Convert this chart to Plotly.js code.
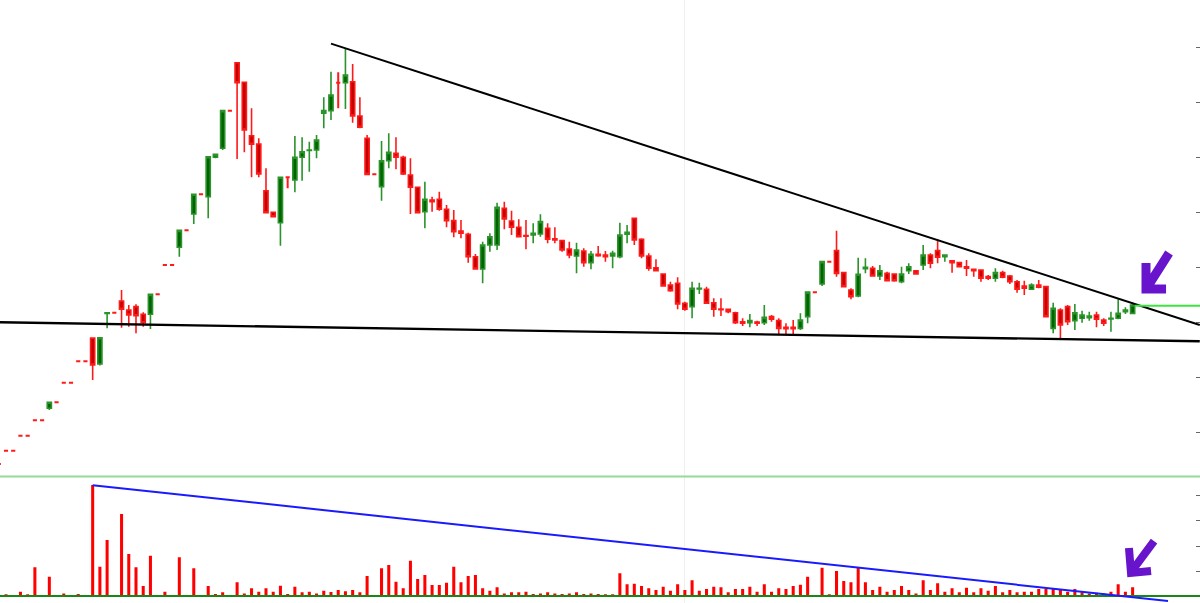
<!DOCTYPE html>
<html>
<head>
<meta charset="utf-8">
<script src="https://cdn.plot.ly/plotly-3.0.1.min.js"></script>
<style>html,body{margin:0;padding:0;background:#fff;}#chart{width:1200px;height:603px;}</style>
</head>
<body>
<div id="chart"></div>
<script>
// Half-day bars, index 0..157
const open = [12.16,13.37,13.37,14.73,14.73,16.13,16.13,17.22,17.77,19.55,
19.55,21.49,21.49,23.6,21.25,25.84,25.91,26.98,26.16,26.46,
25.77,25.77,27.58,30.25,30.25,31.86,33.4,34.89,36.68,36.46,
40.04,40.86,44.28,48.64,46.86,42.00,41.25,37.00,35.04,34.09,
38.22,37.98,40.04,40.66,40.70,44.04,44.28,46.82,46.82,46.91,
43.79,41.77,38.49,37.37,39.73,40.40,40.04,38.43,37.31,35.09,
36.16,36.22,35.31,34.28,33.34,33.04,31.00,29.89,32.07,32.07,
35.40,34.25,33.68,32.93,32.98,33.07,33.59,32.64,32.46,31.70,
31.07,31.52,30.46,31.22,31.16,31.07,31.00,33.04,34.49,32.59,
31.07,30.00,29.43,28.43,28.59,26.77,26.46,28.07,28.04,26.82,
26.25,26.22,25.91,25.09,25.00,25.07,25.00,25.55,25.19,24.59,
24.59,24.49,25.55,27.78,28.52,30.55,31.55,29.55,27.98,27.43,
29.91,29.95,29.25,29.49,29.43,28.73,29.73,29.73,30.25,31.16,
31.55,31.00,30.64,30.46,30.09,29.86,29.79,29.19,29.04,29.55,
29.25,28.73,28.34,28.04,28.43,28.28,24.49,26.16,26.46,25.19,
25.40,25.46,25.70,25.25,25.34,25.40,26.00,25.85];
const high = [12.16,13.37,13.37,14.73,14.73,16.13,16.13,17.77,17.77,19.55,
19.55,21.49,21.49,23.6,23.64,25.91,25.91,27.98,26.61,26.68,
25.95,27.58,27.58,30.25,30.25,33.4,33.4,36.68,36.68,40.09,
40.31,44.28,44.28,48.64,46.86,44.49,41.77,39.04,35.04,38.22,
38.22,41.98,41.86,41.46,42.07,45.49,47.82,47.77,49.95,48.52,
45.49,42.07,38.49,41.52,42.22,41.86,40.19,39.95,37.31,37.82,
36.46,36.91,35.70,35.25,34.34,33.19,31.25,32.37,33.13,35.91,
36.00,35.19,34.40,34.34,34.04,34.86,34.04,33.68,32.52,32.37,
32.28,31.77,31.52,31.98,31.52,31.55,34.09,33.89,34.49,32.68,
31.31,30.77,29.43,28.73,29.13,26.91,28.73,28.64,28.28,27.22,
27.22,26.22,26.00,25.40,25.79,25.19,26.61,25.70,25.40,24.95,
25.25,25.86,27.78,27.78,30.55,30.55,33.37,29.64,28.13,30.91,
30.86,30.16,30.25,29.64,29.49,30.09,30.40,29.79,32.07,31.31,
32.59,31.16,30.64,30.55,30.70,29.86,29.86,29.34,29.95,29.73,
29.34,28.89,28.82,28.59,28.89,28.28,26.82,26.31,26.61,26.70,
26.09,26.00,26.00,25.40,26.00,27.13,26.40,26.82];
const low = [12.16,13.37,13.37,14.73,14.73,16.13,16.13,17.07,17.77,19.55,
19.55,21.49,21.49,19.79,21.11,24.49,25.91,24.55,24.64,24.04,
24.64,24.43,27.58,30.25,30.25,31.00,33.4,33.98,36.68,34.49,
39.95,40.70,44.28,39.89,40.49,38.22,38.22,34.95,34.64,32.00,
37.22,36.86,37.91,38.73,39.95,42.68,43.43,44.49,44.43,43.19,
42.68,38.49,38.49,36.09,39.04,38.95,38.43,34.89,35.00,33.59,
35.09,35.19,33.68,32.77,32.68,30.46,29.89,28.59,31.46,31.61,
33.49,32.98,32.82,31.68,32.22,32.82,32.22,32.22,31.46,30.86,
29.49,30.09,29.86,31.00,30.55,29.95,30.86,32.22,32.07,30.86,
29.73,29.73,28.34,27.82,26.22,26.09,25.40,27.61,26.70,25.55,
25.61,25.86,24.89,24.70,24.59,24.70,24.79,25.09,23.98,23.98,
23.98,24.34,24.95,27.78,28.34,30.55,29.19,28.22,27.13,27.31,
29.49,29.19,28.89,28.82,28.73,28.59,29.43,29.39,29.79,29.95,
30.40,30.55,29.55,30.04,29.25,29.19,28.73,28.89,28.73,29.04,
28.52,27.73,27.52,28.00,28.13,25.55,24.04,23.49,24.79,24.34,
25.00,25.19,24.59,24.70,24.19,25.31,25.79,25.85];
const close = [12.16,13.37,13.37,14.73,14.73,16.13,16.13,17.77,17.77,19.55,
19.55,21.49,21.49,21.16,23.64,25.91,25.91,26.22,25.70,25.64,
25.00,27.58,27.58,30.25,30.25,33.4,33.4,36.68,36.68,40.09,
40.31,44.28,44.28,46.82,42.52,41.22,38.52,35.00,34.64,38.22,
38.22,40.04,40.55,40.70,41.61,44.28,45.70,46.82,47.52,43.79,
42.77,38.49,38.49,39.73,40.49,40.04,38.52,37.31,35.00,36.22,
36.00,35.31,34.28,33.28,33.13,31.00,29.89,32.07,32.82,35.49,
34.43,33.68,32.82,32.86,33.13,34.19,32.59,32.52,31.61,31.16,
31.61,30.46,31.22,31.09,31.00,31.31,32.98,33.22,32.52,31.07,
29.95,29.73,28.34,27.91,26.70,26.22,28.13,28.13,26.77,26.22,
26.19,26.00,25.00,24.95,25.19,24.95,25.49,25.31,24.49,24.46,
24.46,25.25,27.78,27.78,30.55,30.55,29.49,28.28,27.37,29.40,
30.04,29.25,29.73,28.82,28.82,29.43,30.09,29.43,31.16,30.40,
30.95,31.16,30.46,30.09,29.95,29.73,29.04,29.04,29.55,29.13,
28.73,28.04,28.13,28.43,28.22,25.55,26.31,24.79,25.09,25.91,
25.70,25.61,25.31,24.95,25.40,25.85,26.16,26.61];
const volume = [0.03,0.07,0.02,0.17,0.07,1.15,0.02,0.77,0.03,0.10,
0.03,0.08,0.03,4.44,1.17,2.24,0.03,3.28,1.68,1.15,
0.40,1.61,0.03,0.17,0.03,1.55,0.03,1.11,0.03,0.40,
0.08,0.15,0.03,0.55,0.10,0.31,0.17,0.31,0.17,0.41,
0.08,0.37,0.15,0.17,0.10,0.21,0.16,0.24,0.19,0.24,
0.15,0.80,0.03,1.11,1.24,0.57,0.31,1.41,0.68,0.84,
0.44,0.44,0.53,1.17,0.55,0.80,0.84,0.31,0.21,0.35,
0.10,0.15,0.15,0.17,0.08,0.10,0.15,0.10,0.08,0.10,
0.15,0.08,0.10,0.08,0.07,0.07,0.91,0.47,0.49,0.40,
0.31,0.24,0.37,0.21,0.47,0.24,0.63,0.21,0.28,0.37,
0.35,0.15,0.28,0.28,0.37,0.17,0.47,0.17,0.31,0.28,
0.40,0.45,0.77,0.03,1.13,0.07,1.00,0.60,0.55,1.13,
0.55,0.24,0.37,0.17,0.24,0.40,0.24,0.10,0.63,0.24,
0.51,0.17,0.31,0.15,0.33,0.15,0.31,0.21,0.40,0.15,
0.24,0.15,0.17,0.17,0.28,0.28,0.28,0.24,0.17,0.28,
0.15,0.10,0.13,0.10,0.17,0.47,0.17,0.35];
const priceTicks = [15,20,25,30,35,40,45,50];
const volumeTicks = [1,2,3,4];
const dividerBar = 95;
// trend lines (bar index, value)
const upperTrend = [[46.0,50.37],[166.3,24.79]];
const lowerTrend = [[0.169,25.04],[166.3,23.31]];
const breakoutLevel = 26.55, breakoutFrom = 157.3;
const volumeTrend = [[13.0,4.43],[161.9,-0.2]];

const idx = open.map((_, i) => i);
const mainIdx = idx.filter(i => open[i] !== close[i]);
const dojiIdx = idx.filter(i => open[i] === close[i]);
const pick = (arr, ids) => ids.map(i => arr[i]);

const upCol = {line:{color:'#2a932a', width:1.6}, fillcolor:'#006400'};
const dnCol = {line:{color:'#ff1a1a', width:1.6}, fillcolor:'#c40000'};

const traces = [
  {type:'candlestick', x:pick(idx,mainIdx), open:pick(open,mainIdx), high:pick(high,mainIdx),
   low:pick(low,mainIdx), close:pick(close,mainIdx), xaxis:'x', yaxis:'y',
   increasing:upCol, decreasing:dnCol, hoverinfo:'none', showlegend:false},
  {type:'candlestick', x:pick(idx,dojiIdx), open:pick(open,dojiIdx), high:pick(high,dojiIdx),
   low:pick(low,dojiIdx), close:pick(close,dojiIdx), xaxis:'x', yaxis:'y',
   increasing:{line:{color:'#ff1a1a', width:2}, fillcolor:'#c40000'},
   decreasing:{line:{color:'#ff1a1a', width:2}, fillcolor:'#c40000'}, hoverinfo:'none', showlegend:false},
  {type:'bar', x:idx, y:volume, xaxis:'x', yaxis:'y2', width:0.42,
   marker:{color:'#ff0000', line:{width:0}}, hoverinfo:'none', showlegend:false}
];

const split = 0.2098;
const P = (px, py) => (px/1200).toFixed(4) + ',' + (1 - py/603).toFixed(4);
const ln = (x0,y0,x1,y1,color,width,xref,yref) => ({type:'line',x0,y0,x1,y1,xref,yref,line:{color,width}});

const shapes = [
  ln(0,split,1,split,'#93dc93',2,'paper','paper'),
  ln(0,0,1,0,'#178717',2,'paper','y2'),
  ln(upperTrend[0][0],upperTrend[0][1],upperTrend[1][0],upperTrend[1][1],'#000',2,'x','y'),
  ln(lowerTrend[0][0],lowerTrend[0][1],lowerTrend[1][0],lowerTrend[1][1],'#000',2.4,'x','y'),
  ln(breakoutFrom,breakoutLevel,166.4,breakoutLevel,'#3de63d',2,'x','y'),
  ln(volumeTrend[0][0],volumeTrend[0][1],volumeTrend[1][0],volumeTrend[1][1],'#1a1aff',2,'x','y2'),
  {type:'path', xref:'paper', yref:'paper', line:{color:'#6714cc', width:9},
   path:`M ${P(1169,253)} L ${P(1148,286)} M ${P(1146,263)} L ${P(1146,289)} L ${P(1166,289)}`},
  {type:'path', xref:'paper', yref:'paper', line:{color:'#6714cc', width:8},
   path:`M ${P(1154,541)} L ${P(1134,568)} M ${P(1129,548)} L ${P(1131,573)} L ${P(1151,571)}`}
];

const layout = {
  width:1200, height:603, margin:{l:0,r:0,t:0,b:0},
  paper_bgcolor:'#ffffff', plot_bgcolor:'#ffffff', showlegend:false,
  boxgap:0.18, boxgroupgap:0.3,
  xaxis:{range:[0.169,166.33], rangeslider:{visible:false}, showticklabels:false, ticks:'',
         tickvals:[dividerBar], showgrid:true, gridcolor:'#efefef', gridwidth:1, zeroline:false, showline:false},
  yaxis:{domain:[split,1], range:[11.02,54.34], side:'right', ticks:'inside', ticklen:4, tickwidth:1,
         tickcolor:'#666', tickvals:priceTicks, showticklabels:false, showgrid:false, zeroline:false, showline:false},
  yaxis2:{domain:[0,split], range:[-0.28,4.78], side:'right', anchor:'x', ticks:'inside', ticklen:4, tickwidth:1,
          tickcolor:'#666', tickvals:volumeTicks, showticklabels:false, showgrid:false, zeroline:false, showline:false},
  shapes:shapes
};

Plotly.newPlot('chart', traces, layout, {staticPlot:true, displayModeBar:false});
</script>
</body>
</html>
